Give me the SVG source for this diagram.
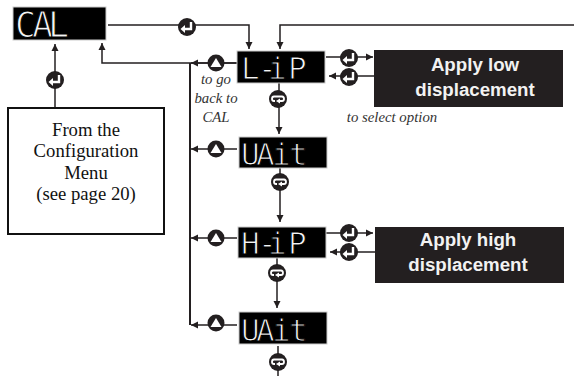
<svg xmlns="http://www.w3.org/2000/svg" width="574" height="376" viewBox="0 0 574 376">
<style>
.lcd{fill:#000;stroke:#ccc;stroke-width:1}
.lt{font-family:"DejaVu Sans Mono","Liberation Mono",monospace;font-size:31px;fill:#f4f4f4;stroke:#000;stroke-width:1.1}
.box{fill:#231f20}
.bt{font-family:"Liberation Sans",Arial,sans-serif;font-weight:700;font-size:18.7px;fill:#f2f2f2;text-anchor:middle}
.s{font-family:"Liberation Serif","Times New Roman",serif;font-size:18.7px;fill:#111;text-anchor:middle}
.i{font-family:"Liberation Serif","Times New Roman",serif;font-style:italic;font-size:14.8px;fill:#333;text-anchor:middle}
.c{fill:none;stroke:#231f20;stroke-width:1.5}
.t{fill:none;stroke:#231f20;stroke-width:2}
.ic{fill:#231f20}
.g{fill:none;stroke:#fff;stroke-width:2.4}
</style>
<defs>
<marker id="a" markerUnits="userSpaceOnUse" markerWidth="8" markerHeight="8" refX="7" refY="4" orient="auto"><path d="M0,0.5 L7,4 L0,7.5z" fill="#231f20"/></marker>
<g id="enter"><circle r="9" class="ic"/><path class="g" d="M4,-5 V2 H-4"/><path d="M-6.500,2 L-2,-2 V6z" fill="#fff"/></g>
<g id="up"><circle r="8.5" class="ic"/><path d="M0,-5 L5.500,4 H-5.500z" fill="#fff"/></g>
<g id="loop"><circle r="9" class="ic"/><path d="M-3,2 H-4 Q-6,2 -6,0 Q-6,-2.500 -4,-2.500 H4 Q6,-2.500 6,0 Q6,2 4,2 H0" fill="none" stroke="#fff" stroke-width="1.800"/><path d="M-2,2 L2,-.5 V4.500z" fill="#fff"/></g>
</defs>
<g id="connectors">
<path class="c" d="M108,25 H249 V49" marker-end="url(#a)"/>
<path class="c" d="M574,25 H280 V49" marker-end="url(#a)"/>
<path class="c" d="M237,63 H102 V43" marker-end="url(#a)"/>
<path class="c" d="M55,108 V44" marker-end="url(#a)"/>
<path class="t" d="M190,63 V325"/>
<path class="c" d="M237,149 H191" marker-end="url(#a)"/>
<path class="c" d="M237,238 H191" marker-end="url(#a)"/>
<path class="c" d="M237,325 H191" marker-end="url(#a)"/>
<path class="c" d="M237,63 H191" marker-end="url(#a)"/>
<path class="c" d="M279,83 V134" marker-end="url(#a)"/>
<path class="c" d="M280,168 V222" marker-end="url(#a)"/>
<path class="c" d="M277,258 V308" marker-end="url(#a)"/>
<path class="c" d="M278,346 V376"/>
<path class="c" d="M326,57 H373" marker-end="url(#a)"/>
<path class="c" d="M374,76 H329" marker-end="url(#a)"/>
<path class="c" d="M322,233 H373" marker-end="url(#a)"/>
<path class="c" d="M375,252 H330" marker-end="url(#a)"/>
</g>
<g id="cal"><rect class="lcd" x="13" y="7" width="93" height="33"/><text class="lt" x="15 32 48" y="36.500" style="font-size:35px">CAL</text></g>
<g id="lip"><rect class="lcd" x="237" y="51" width="88" height="32"/><text class="lt" x="241 258 268 288" y="78.500">L-iP</text></g>
<g id="uait1"><rect class="lcd" x="239" y="137" width="88" height="31"/><text class="lt" x="241 256 272 289" y="164.500">UAit</text></g>
<g id="hip"><rect class="lcd" x="238" y="227" width="88" height="31"/><text class="lt" x="241 258 268 288" y="253.500">H-iP</text></g>
<g id="uait2"><rect class="lcd" x="239" y="312" width="88" height="32"/><text class="lt" x="241 256 272 289" y="340.500">UAit</text></g>
<g id="low"><rect class="box" x="374" y="50" width="189" height="57"/><text class="bt" x="475" y="71">Apply low</text><text class="bt" x="475" y="96">displacement</text></g>
<g id="high"><rect class="box" x="375" y="227" width="189" height="56"/><text class="bt" x="468" y="246">Apply high</text><text class="bt" x="468" y="271">displacement</text></g>
<g id="config"><rect x="8" y="108" width="156" height="126" fill="#fff" stroke="#111" stroke-width="2"/>
<text class="s" x="86" y="136">From the</text><text class="s" x="86" y="157">Configuration</text><text class="s" x="86" y="179">Menu</text><text class="s" x="86" y="200">(see page 20)</text></g>
<g id="icons">
<use href="#enter" x="187" y="27"/><use href="#enter" x="55" y="80"/>
<use href="#up" x="216" y="63"/><use href="#up" x="216" y="149"/><use href="#up" x="216" y="238"/><use href="#up" x="216" y="323"/>
<use href="#loop" x="278" y="99"/><use href="#loop" x="280" y="182"/><use href="#loop" x="277" y="273"/><use href="#loop" x="278" y="362"/>
<use href="#enter" x="349" y="58"/><use href="#enter" x="349" y="77"/><use href="#enter" x="349" y="233"/><use href="#enter" x="349" y="252"/>
</g>
<g id="notes"><text class="i" x="216" y="84">to go</text><text class="i" x="216" y="103">back to</text><text class="i" x="216" y="122">CAL</text>
<text class="i" x="392" y="122">to select option</text></g>
</svg>
